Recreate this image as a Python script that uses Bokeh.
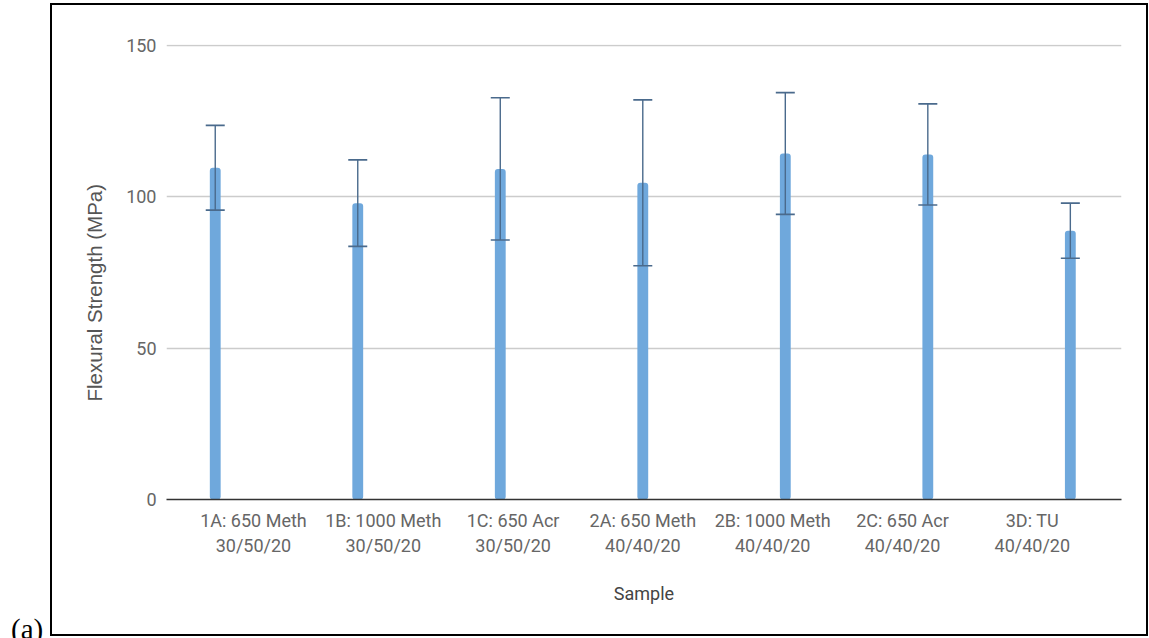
from bokeh.plotting import figure
from bokeh.layouts import column
from bokeh.models import (ColumnDataSource, Range1d, LinearAxis, FixedTicker,
                          Whisker, TeeHead, Title, Div)
from bokeh.embed import file_html
from bokeh.resources import INLINE

# Sample names (two-line tick labels)
samples = [
    "1A: 650 Meth\n30/50/20",
    "1B: 1000 Meth\n30/50/20",
    "1C: 650 Acr\n30/50/20",
    "2A: 650 Meth\n40/40/20",
    "2B: 1000 Meth\n40/40/20",
    "2C: 650 Acr\n40/40/20",
    "3D: TU\n40/40/20",
]
# Mean flexural strength (MPa) and its standard deviation
strength = [109.6, 97.9, 109.2, 104.6, 114.3, 114.0, 88.8]
std_dev = [14.0, 14.3, 23.5, 27.4, 20.1, 16.7, 9.1]
y_ticks = [0, 50, 100, 150]

BAR_COLOR = "#6fa8dc"
ERR_COLOR = "#4a6a8c"
TICK_COLOR = "#666666"

xs = list(range(len(samples)))
src = ColumnDataSource(dict(
    x=xs,
    strength=strength,
    upper=[m + s for m, s in zip(strength, std_dev)],
    lower=[m - s for m, s in zip(strength, std_dev)],
))

p = figure(width=1149, height=638, output_backend="svg", toolbar_location=None,
           x_range=Range1d(-0.342, 6.359), y_range=Range1d(0, 150.3),
           x_axis_location=None,
           min_border_left=166, min_border_right=28,
           min_border_top=44, min_border_bottom=139)
p.outline_line_color = None
p.background_fill_color = "white"
p.border_fill_color = "white"
p.xgrid.visible = False

# bars
p.vbar(x="x", top="strength", width=0.076, source=src,
       fill_color=BAR_COLOR, line_color=None, border_radius=3)

# error bars
head_kw = dict(size=19, line_color=ERR_COLOR, line_width=1.6)
err = Whisker(source=src, base="x", upper="upper", lower="lower",
              line_color=ERR_COLOR, line_width=1.4, level="overlay",
              upper_head=TeeHead(**head_kw), lower_head=TeeHead(**head_kw))
p.add_layout(err)

# y axis
yax = p.yaxis[0]
yax.ticker = FixedTicker(ticks=y_ticks)
yax.axis_line_color = None
yax.major_tick_line_color = None
yax.minor_tick_line_color = None
yax.major_tick_out = 0
yax.major_label_standoff = 10
yax.major_label_text_font = "Roboto"
yax.major_label_text_font_size = "18px"
yax.major_label_text_color = TICK_COLOR

p.ygrid.grid_line_color = "#cccccc"
p.ygrid.grid_line_width = 1.3
p.ygrid.ticker = FixedTicker(ticks=y_ticks)

# category labels along the bottom
p.extra_x_ranges = {"labels": Range1d(-0.670, 6.687)}
xax = LinearAxis(x_range_name="labels",
                 ticker=FixedTicker(ticks=xs),
                 major_label_overrides={i: s for i, s in enumerate(samples)},
                 axis_label="Sample")
xax.axis_line_color = "#333333"
xax.axis_line_width = 1.5
xax.major_tick_line_color = None
xax.minor_tick_line_color = None
xax.major_tick_out = 0
xax.major_tick_in = 0
xax.major_label_standoff = 10
xax.major_label_text_font = "Roboto"
xax.major_label_text_font_size = "18px"
xax.major_label_text_color = TICK_COLOR
xax.axis_label_standoff = 24
xax.axis_label_text_font = "Roboto"
xax.axis_label_text_font_size = "18px"
xax.axis_label_text_font_style = "normal"
xax.axis_label_text_color = "#444444"
p.add_layout(xax, "below")

# y axis title
p.add_layout(Title(text="Flexural Strength (MPa)", align="left", offset=98,
                   standoff=35, text_font="Liberation Sans",
                   text_font_size="20.5px", text_font_style="normal",
                   text_color="#555555"), "left")

# outer panel border with its "(a)" tag
tag = ('<span style="position:absolute; left:-41px; top:610px; '
       "font-family:'Liberation Serif'; font-size:29px; line-height:1; "
       'color:black; white-space:nowrap;">(a)</span>')
panel_box = Div(text=tag, width=1098, height=633, margin=0,
                styles={"position": "absolute", "left": "50px", "top": "3px",
                        "border": "2px solid black", "box-sizing": "border-box",
                        "overflow": "visible", "pointer-events": "none"})

root = column(p, panel_box)
open("out.html", "w").write(file_html(root, INLINE))
